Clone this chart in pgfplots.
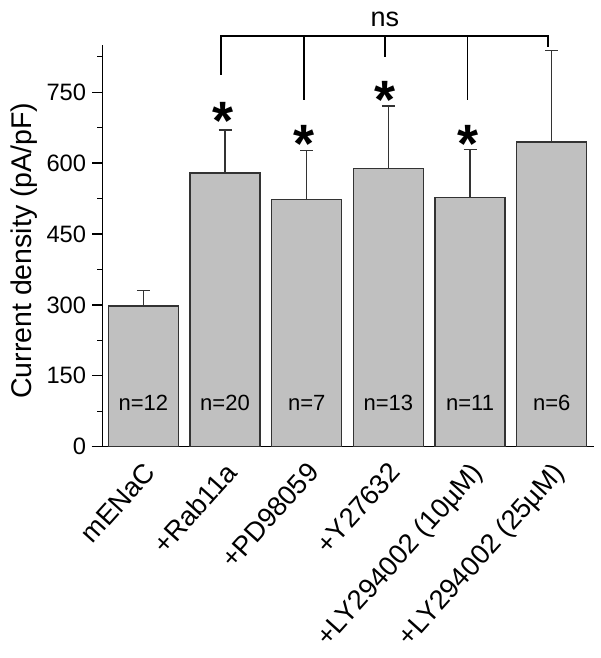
\documentclass[border=0pt]{standalone}
\usepackage{fontspec}
\setmainfont{Liberation Sans}
\usepackage{pgfplots}
\usepackage{pgfplotstable}
\pgfplotsset{compat=1.18}
\definecolor{bargray}{RGB}{192,192,192}

% mean and upper error (SEM) per group
\pgfplotstableread{
x y e
0 298 32
1 579 91
2 523 104
3 588 133
4 528 101
5 645 193
}\currentdata

\begin{document}
\begin{tikzpicture}[
  nlab/.style={anchor=base, font=\fontsize{22}{24}\selectfont},
  star/.style={anchor=north, inner sep=0pt, font=\fontsize{54}{54}\bfseries\selectfont},
]
\useasboundingbox (-102.3pt,-211.3pt) rectangle (497.7pt,446.7pt);
\begin{axis}[
  scale only axis,
  width=491.7pt, height=401.7pt,
  at={(0,0)}, anchor=south west,
  xmin=-0.502, xmax=5.517,
  ymin=0, ymax=850,
  axis x line*=bottom,
  axis y line*=left,
  axis line style={line width=1.3pt, black},
  ytick={0,150,...,750},
  minor ytick={75,225,...,825},
  tick align=outside,
  major tick length=10pt,
  minor tick length=5pt,
  every tick/.style={line width=1.3pt, black},
  xtick={0,...,5},
  xticklabels={mENaC,+Rab11a,+PD98059,+Y27632,+LY294002 (10µM),+LY294002 (25µM)},
  x tick style={draw=none},
  xticklabel shift=3pt,
  xticklabel style={rotate=48, anchor=north east, inner sep=0pt, xshift=-1pt,
    font=\fontsize{27.3}{30}\selectfont},
  yticklabel style={inner sep=0pt, xshift=-6pt,
    font=\fontsize{23.7}{26}\selectfont},
  /pgf/number format/assume math mode=true,
  ylabel={Current density (pA/pF)},
  ylabel style={at={(axis description cs:0,0.488)}, anchor=base,
    yshift=70.3pt, inner sep=0pt,
    font=\fontsize{28.5}{30}\selectfont},
  clip=false,
]
\addplot[ybar, bar width=70pt, fill=bargray, draw=black!80, line width=1.3pt,
  error bars/.cd, y dir=plus, y explicit,
  error bar style={line width=1.3pt, black!80},
  error mark options={rotate=90, mark size=6.5pt, line width=1.3pt, black!80}]
  table[x=x, y=y, y error=e] {\currentdata};

% x axis line runs a little past the y axis
\draw[line width=1.3pt] (axis cs:-0.632,0) -- (axis cs:-0.5,0);

% n labels
\node[nlab] at (axis cs:0,76) {n=12};
\node[nlab] at (axis cs:1,76) {n=20};
\node[nlab] at (axis cs:2,76) {n=7};
\node[nlab] at (axis cs:3,76) {n=13};
\node[nlab] at (axis cs:4,76) {n=11};
\node[nlab] at (axis cs:5,76) {n=6};

% significance stars
\node[star] at (axis cs:0.97,730) {*};
\node[star] at (axis cs:1.97,680) {*};
\node[star] at (axis cs:2.96,773) {*};
\node[star] at (axis cs:3.97,680) {*};

% ns bracket
\draw[line width=1.3pt] (axis cs:0.951,787) -- (axis cs:0.951,869)
  -- (axis cs:4.953,869) -- (axis cs:4.953,846);
\draw[line width=1.3pt] (axis cs:1.966,869) -- (axis cs:1.966,733);
\draw[line width=1.3pt] (axis cs:2.958,869) -- (axis cs:2.958,825);
\draw[line width=1.3pt] (axis cs:3.970,869) -- (axis cs:3.970,733);
\node[anchor=base, font=\fontsize{27}{30}\selectfont] at (axis cs:2.958,890) {ns};
\end{axis}
\end{tikzpicture}
\end{document}
